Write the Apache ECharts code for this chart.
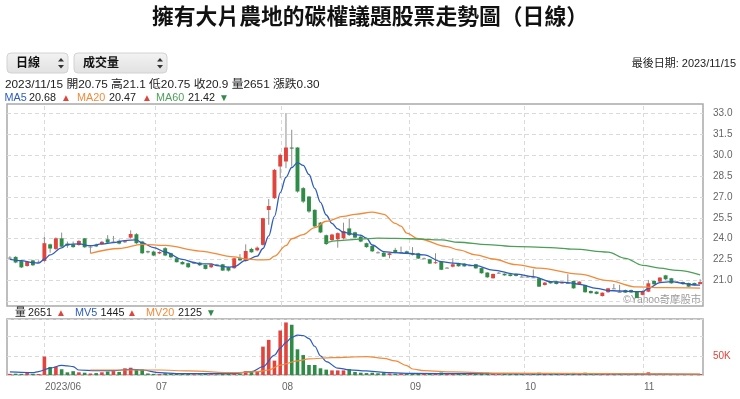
<!DOCTYPE html>
<html><head><meta charset="utf-8">
<script src="https://cdn.jsdelivr.net/npm/echarts@6/dist/echarts.min.js"></script>
<style>html,body{margin:0;padding:0;background:#fff;}#c{width:740px;height:399px;}</style>
</head><body><div id="c"></div>
<script>
// ---------- data ----------
const dates = [
'2023/05/24','2023/05/25','2023/05/26','2023/05/29','2023/05/30','2023/05/31',
'2023/06/01','2023/06/02','2023/06/05','2023/06/06','2023/06/07','2023/06/08','2023/06/09','2023/06/12','2023/06/13','2023/06/14','2023/06/15','2023/06/16','2023/06/19','2023/06/20','2023/06/21','2023/06/26','2023/06/27','2023/06/28','2023/06/29','2023/06/30',
'2023/07/03','2023/07/04','2023/07/05','2023/07/06','2023/07/07','2023/07/10','2023/07/11','2023/07/12','2023/07/13','2023/07/14','2023/07/17','2023/07/18','2023/07/19','2023/07/20','2023/07/21','2023/07/24','2023/07/25','2023/07/26','2023/07/27','2023/07/28','2023/07/31',
'2023/08/01','2023/08/02','2023/08/03','2023/08/04','2023/08/07','2023/08/08','2023/08/09','2023/08/10','2023/08/11','2023/08/14','2023/08/15','2023/08/16','2023/08/17','2023/08/18','2023/08/21','2023/08/22','2023/08/23','2023/08/24','2023/08/25','2023/08/28','2023/08/29','2023/08/30','2023/08/31',
'2023/09/01','2023/09/04','2023/09/05','2023/09/06','2023/09/07','2023/09/08','2023/09/11','2023/09/12','2023/09/13','2023/09/14','2023/09/15','2023/09/18','2023/09/19','2023/09/20','2023/09/21','2023/09/22','2023/09/25','2023/09/26','2023/09/27','2023/09/28',
'2023/10/02','2023/10/03','2023/10/04','2023/10/05','2023/10/06','2023/10/11','2023/10/12','2023/10/13','2023/10/16','2023/10/17','2023/10/18','2023/10/19','2023/10/20','2023/10/23','2023/10/24','2023/10/25','2023/10/26','2023/10/27','2023/10/30','2023/10/31',
'2023/11/01','2023/11/02','2023/11/03','2023/11/06','2023/11/07','2023/11/08','2023/11/09','2023/11/10','2023/11/13','2023/11/14','2023/11/15'];

// [open, close, low, high]
const ohlc = [
[22.65,22.65,22.55,22.75],[22.7,22.3,22.25,22.75],[22.4,21.95,21.9,22.45],[22.05,22.35,22.0,22.4],[22.45,22.1,22.05,22.5],[22.35,22.35,22.3,22.45],
[22.41,23.68,22.35,24.15],[23.6,23.3,23.0,23.65],[23.27,24.03,23.2,24.1],[24.03,23.43,23.4,24.44],[23.65,23.5,23.35,23.8],[23.6,23.4,23.35,23.8],
[23.55,23.84,23.5,23.9],[24.03,23.39,23.35,24.05],[23.44,23.44,22.96,23.5],[23.55,23.45,23.4,23.65],[23.6,23.78,23.55,23.85],[23.96,23.72,23.7,24.26],
[23.8,23.8,23.7,24.2],[23.85,23.65,23.6,23.95],[23.76,23.82,23.7,23.9],[24.08,24.34,24.0,24.6],[24.32,23.68,23.6,24.4],[23.8,22.96,22.9,23.85],
[23.1,23.05,22.95,23.15],[23.08,22.8,22.75,23.15],[22.95,23.05,22.9,23.1],[23.32,22.8,22.75,23.4],[22.96,22.67,22.6,23.0],[22.6,22.32,22.3,22.65],
[22.34,22.17,22.15,22.4],[22.25,21.96,21.9,22.3],[22.29,22.29,22.2,22.35],[22.29,22.1,22.05,22.35],[22.12,21.84,21.8,22.15],[21.96,22.17,21.9,22.2],
[22.15,22.12,22.05,22.2],[22.17,21.72,21.7,22.2],[21.96,21.72,21.65,22.0],[21.89,22.6,21.85,22.65],[22.6,22.45,22.4,22.9],[22.41,23.12,22.35,23.6],
[23.27,23.03,23.0,23.35],[23.17,23.36,23.1,23.45],[23.56,25.47,23.5,25.5],[26.06,26.34,25.0,26.84],[26.9,28.93,26.85,29.0],[29.17,30.0,28.33,30.1],
[29.53,30.53,29.05,33.0],[30.53,30.45,29.17,31.8],[30.53,27.38,27.3,30.55],[27.62,26.66,26.55,27.7],[27.02,25.95,25.85,27.05],[26.07,24.88,24.85,26.1],
[25.15,24.45,24.4,25.2],[24.25,23.62,23.55,24.3],[23.9,24.3,23.85,24.35],[23.96,24.4,23.36,24.45],[24.03,24.55,23.95,25.15],[24.74,24.26,24.2,25.45],
[24.46,24.08,24.0,24.5],[24.15,23.8,23.75,24.2],[23.68,23.4,23.35,23.72],[23.48,23.1,23.05,23.5],[23.03,23.03,22.95,23.1],[23.0,22.72,22.7,23.05],
[22.84,22.96,22.6,23.0],[23.2,22.98,22.95,23.35],[23.05,23.05,22.95,23.44],[23.1,22.92,22.9,23.15],[22.98,22.85,22.8,23.4],[22.96,22.58,22.55,23.0],
[22.6,22.6,22.55,22.65],[22.53,22.22,22.2,22.56],[22.25,22.32,22.2,22.96],[22.36,21.78,21.75,22.4],[21.93,21.93,21.88,21.98],[22.0,22.17,21.95,22.6],
[22.25,22.03,22.0,22.28],[22.22,22.02,22.0,22.25],[22.1,22.1,22.05,22.15],[22.18,21.88,21.85,22.2],[21.9,21.53,21.5,21.93],[21.58,21.24,21.2,21.6],
[21.17,21.48,21.15,21.5],[21.57,21.57,21.5,21.62],[21.5,21.38,21.35,21.52],[21.45,21.33,21.3,21.5],[21.48,21.34,21.3,21.5],[21.29,21.29,21.25,21.45],
[21.29,21.29,21.25,21.35],[21.24,21.24,21.2,21.8],[21.17,20.57,20.55,21.2],[20.69,20.86,20.65,20.9],[20.95,20.81,20.78,20.98],[20.95,20.76,20.72,20.98],
[20.8,20.9,20.78,20.93],[20.83,20.83,20.78,21.46],[20.98,20.45,20.42,21.0],[20.76,20.93,20.72,20.96],[20.69,20.17,20.14,20.72],[20.26,20.1,20.08,20.3],
[20.21,20.05,20.02,20.24],[19.9,20.14,19.86,20.16],[20.17,20.45,20.14,20.48],[20.45,20.45,20.4,20.76],[20.2,20.2,20.15,20.7],[20.33,20.14,20.12,20.36],
[20.33,20.16,20.12,20.36],[20.2,19.76,19.74,20.22],[19.98,20.26,19.95,20.3],[20.21,20.81,20.18,21.05],[20.98,20.74,20.7,21.0],[20.93,21.22,20.9,21.25],
[21.38,21.1,21.05,21.41],[21.17,20.81,20.78,21.2],[20.93,20.93,20.88,20.98],[20.9,20.75,20.7,20.93],[20.83,20.57,20.55,20.86],[20.83,20.68,20.65,20.86],
[20.75,20.9,20.75,21.1]];

const volumes = [
3000,3500,3000,8000,3000,2500,
48000,21000,21500,15000,7000,10000,7000,6000,4000,5000,7000,9000,10000,8000,17500,19000,14500,14500,
4000,3000,2500,4500,3500,3000,2500,3000,2000,2000,2500,2000,1500,3500,3000,5000,3000,
10000,8000,8000,74000,91600,37500,116000,137000,131000,67000,52000,26000,26000,17500,14000,12000,12000,12000,15000,8000,6000,
5000,6000,4500,5000,4000,3500,4000,3000,3500,4500,
3000,5000,4000,6500,3000,4000,3000,2500,2500,3500,
5000,6000,4000,2500,3000,2500,3000,2500,2000,3500,
6000,3000,2500,3000,2500,4000,5500,3000,6000,3000,
2500,3500,4000,2500,3000,2000,2000,4500,3500,7000,
3000,3500,3000,2000,1000,1200,1300,1000,2651];

// moving averages: [index, value]
const ma5 = [[0,22.53],[2,22.43],[4,22.29],[5,22.25],[6,22.53],[7,22.84],[9,23.35],[10,23.6],[12,23.63],[14,23.5],[16,23.63],[18,23.72],[20,23.87],[22,23.92],[23,23.7],[25,23.37],[27,23.05],[30,22.52],[32,22.3],[33,22.2],[35,22.2],[36,22.08],[38,21.97],[39,22.0],[41,22.45],[43,22.75],[44,23.3],[45,24.2],[46,25.6],[47,27.3],[48,28.4],[49,29.1],[50,29.45],[51,29.25],[52,28.6],[53,27.6],[54,26.6],[55,25.7],[56,25.1],[57,24.7],[58,24.45],[60,24.3],[61,24.25],[62,24.04],[63,23.55],[65,23.08],[67,23.0],[69,22.96],[72,22.84],[75,22.36],[77,22.25],[81,22.07],[84,21.75],[88,21.46],[91,21.29],[94,20.93],[97,20.86],[99,20.74],[102,20.45],[104,20.29],[106,20.26],[109,20.21],[110,20.21],[111,20.45],[113,20.86],[115,20.93],[117,20.81],[119,20.69],[120,20.68]];
const ma20 = [[14,22.96],[19,23.3],[23,23.6],[27,23.52],[33,23.12],[39,22.7],[41,22.55],[43,22.48],[45,22.5],[46,22.75],[48,23.5],[49,24.0],[51,24.3],[53,24.8],[55,25.25],[58,25.6],[60,25.75],[63,25.9],[65,25.75],[67,25.1],[68,24.9],[69,24.4],[71,24.0],[76,23.44],[78,23.2],[81,22.85],[84,22.55],[88,22.15],[92,21.89],[99,21.47],[104,21.0],[109,20.55],[114,20.5],[120,20.47]];
const ma60 = [[55,23.72],[57,23.87],[61,23.97],[64,24.04],[70,24.0],[75,23.92],[78,23.75],[83,23.58],[87,23.46],[94,23.37],[98,23.25],[104,23.04],[107,22.6],[110,22.1],[113,21.89],[116,21.73],[120,21.42]];
const mv5 = [[0,8000],[2,7000],[4,6000],[5,9000],[7,18000],[9,25000],[10,24000],[11,21800],[12,13000],[15,11300],[18,11300],[21,14800],[23,13000],[26,6000],[29,3500],[33,3500],[39,3500],[42,8700],[44,21800],[46,52000],[47,70000],[48,85000],[49,98000],[50,104000],[51,103000],[52,95000],[53,75000],[54,50000],[55,35000],[57,18000],[59,13500],[62,10500],[64,8000],[66,6000],[70,4000],[80,3500],[90,3000],[100,3000],[110,2500],[120,1445]];
const mv20 = [[14,13000],[26,13000],[31,10500],[39,6000],[43,8700],[45,13000],[47,26000],[50,36600],[52,42000],[56,45400],[62,48000],[65,43600],[67,36600],[69,24400],[70,15700],[72,11300],[77,7900],[86,5000],[103,3500],[120,2125]];

const priceTicks = {min: 19.5, max: 33, step: 1.5};
const volTicks = {min: 0, max: 146000, step: 50000};
// month boundaries, in trading-day index units, and their labels
const monthPos = [5.93, 25.23, 47.13, 69.47, 89.38, 110.02];
const monthLabels = ['2023/06', '07', '08', '09', '10', '11'];

// ---------- style ----------
const UP = '#e0443c', DOWN = '#2f8c47', DOJI = '#8c8c8c', WICK = '#8e8e8e';
const C_MA5 = '#2d5cc0', C_MA20 = '#f28a3a', C_MA60 = '#4c9f58';
const FF = '"Liberation Sans","Noto Sans CJK TC",sans-serif';
const GRIDC = '#dadada';

const chart = echarts.init(document.getElementById('c'), null, {renderer: 'canvas'});

const candleData = ohlc.map((r, i) => [i, r[0], r[1], r[2], r[3]]);
const volData = volumes.map((v, i) => {
  const [o, c] = ohlc[i];
  let col;
  if (c > o) col = UP; else if (c < o) col = DOWN;
  else col = (i > 0 && c < ohlc[i - 1][1]) ? DOWN : UP;
  return {value: v, itemStyle: {color: col}};
});

function renderCandle(params, api) {
  const x = api.value(0), o = api.value(1), c = api.value(2), l = api.value(3), h = api.value(4);
  const pO = api.coord([x, o]), pC = api.coord([x, c]), pL = api.coord([x, l]), pH = api.coord([x, h]);
  const bw = api.size([1, 0])[0] * 0.68;
  const col = c > o ? UP : (c < o ? DOWN : DOJI);
  const top = Math.min(pO[1], pC[1]);
  const ht = Math.max(Math.abs(pO[1] - pC[1]), 1);
  const cx = pO[0];
  return {type: 'group', children: [
    {type: 'line', shape: {x1: cx, y1: pH[1], x2: cx, y2: pL[1]}, style: {stroke: WICK, lineWidth: 1}},
    {type: 'rect', shape: {x: cx - bw / 2, y: top, width: bw, height: ht}, style: {fill: col}}
  ]};
}
function makeMonthRenderer(withLabel) {
  return function (params, api) {
    const x = api.value(0);
    const p1 = api.coord([x, 0]), p2 = api.coord([x, 1]);
    const px = Math.round(p1[0]) + 0.5;
    const children = [{type: 'line', silent: true, shape: {x1: px, y1: p1[1], x2: px, y2: p2[1]},
      style: {stroke: GRIDC, lineWidth: 1, lineDash: [4, 3]}}];
    if (withLabel) {
      children.push({type: 'text', silent: true, x: px + 0.5, y: p1[1] + 12,
        style: {text: monthLabels[params.dataIndex], fill: '#666', font: 'normal 10px ' + FF,
          textAlign: 'left', align: 'left', textVerticalAlign: 'middle', verticalAlign: 'middle'}});
    }
    return {type: 'group', children: children};
  };
}

function txt(text, x, y, size, color, opt) {
  opt = opt || {};
  return {type: 'text', x: x, y: y, silent: true, style: {
    text: text, fill: color, font: (opt.weight || 'normal') + ' ' + size + 'px ' + FF,
    textAlign: opt.align || 'left', align: opt.align || 'left',
    textVerticalAlign: 'middle', verticalAlign: 'middle'}};
}
function dropdown(x, w, label) {
  return [
    {type: 'rect', shape: {x: x, y: 53, width: w, height: 20, r: 4}, silent: true,
      style: {fill: new echarts.graphic.LinearGradient(0, 0, 0, 1, [{offset: 0, color: '#f3f3f3'}, {offset: 1, color: '#e1e1e1'}]), stroke: '#d2d2d2', lineWidth: 1}},
    txt(label, x + 9, 63.5, 12, '#111', {weight: 'bold'}),
    {type: 'polygon', silent: true, shape: {points: [[x + w - 10, 61.5], [x + w - 7, 58], [x + w - 4, 61.5]]}, style: {fill: '#333'}},
    {type: 'polygon', silent: true, shape: {points: [[x + w - 10, 65], [x + w - 7, 68.5], [x + w - 4, 65]]}, style: {fill: '#333'}}
  ];
}

const LF = 10.8;
const graphics = [].concat(
  [txt('擁有大片農地的碳權議題股票走勢圖（日線）', 370, 18, 21.8, '#111', {align: 'center', weight: 'bold'})],
  dropdown(7, 61, '日線'),
  dropdown(74, 93, '成交量'),
  [
    txt('最後日期: 2023/11/15', 736, 64, 11, '#222', {align: 'right'}),
    txt('2023/11/15 開20.75 高21.1 低20.75 收20.9 量2651 漲跌0.30', 5, 84.5, 11.8, '#222'),
    txt('MA5', 4.5, 98, LF, C_MA5), txt('20.68', 29, 98, LF, '#222'), txt('▲', 61, 98, 10, UP),
    txt('MA20', 77, 98, LF, C_MA20), txt('20.47', 109, 98, LF, '#222'), txt('▲', 142, 98, 10, UP),
    txt('MA60', 156, 98, LF, C_MA60), txt('21.42', 188, 98, LF, '#222'), txt('▼', 219, 98, 10, DOWN),
    txt('量', 15, 313, LF, '#222'), txt('2651', 28, 313, LF, '#222'), txt('▲', 56, 313, 10, UP),
    txt('MV5', 75, 313, LF, C_MA5), txt('1445', 100.5, 313, LF, '#222'), txt('▲', 127, 313, 10, UP),
    txt('MV20', 146, 313, LF, C_MA20), txt('2125', 178, 313, LF, '#222'), txt('▼', 206, 313, 10, DOWN),
    txt('©Yahoo奇摩股市', 701, 300, 10.3, '#9a9a9a', {align: 'right'})
  ]
);

const hidden = {show: false};
const option = {
  animation: false,
  backgroundColor: '#fff',
  textStyle: {fontFamily: FF},
  grid: [
    {left: 7, right: 37, top: 104, height: 202, show: true, borderColor: '#a9a9a9', borderWidth: 1.5, backgroundColor: 'transparent'},
    {left: 7, right: 37, top: 113, height: 188.6},
    {left: 7, right: 37, top: 319, height: 56, show: true, borderColor: '#a9a9a9', borderWidth: 1.5, backgroundColor: 'transparent'}
  ],
  xAxis: [
    {type: 'value', gridIndex: 0, min: -0.5, max: 120.5, show: false, splitLine: hidden},
    {type: 'category', gridIndex: 1, data: dates, boundaryGap: true, show: false},
    {type: 'category', gridIndex: 2, data: dates, boundaryGap: true, show: false},
    {type: 'value', gridIndex: 2, min: -0.5, max: 120.5, show: false, splitLine: hidden}
  ],
  yAxis: [
    {type: 'value', gridIndex: 0, min: 0, max: 1, show: false, splitLine: hidden},
    {type: 'value', gridIndex: 1, position: 'right', min: priceTicks.min, max: priceTicks.max, interval: priceTicks.step,
      axisLine: hidden, axisTick: hidden,
      axisLabel: {margin: 10, color: '#666', fontSize: 10, fontFamily: FF,
        formatter: (v) => v <= priceTicks.min ? '' : v.toFixed(1)},
      splitLine: {show: true, lineStyle: {color: GRIDC, type: [4, 3], width: 1}}},
    {type: 'value', gridIndex: 2, position: 'right', min: volTicks.min, max: volTicks.max, interval: volTicks.step,
      axisLine: hidden, axisTick: hidden,
      axisLabel: {margin: 10, color: '#e0443c', fontSize: 10, fontFamily: FF,
        formatter: (v) => v === 50000 ? '50K' : ''},
      splitLine: {show: true, lineStyle: {color: GRIDC, type: [4, 3], width: 1}}},
    {type: 'value', gridIndex: 2, min: 0, max: 1, show: false, splitLine: hidden}
  ],
  series: [
    {type: 'custom', xAxisIndex: 0, yAxisIndex: 0, data: monthPos.map(p => [p, 0.5]), renderItem: makeMonthRenderer(false), silent: true, clip: false, z: 1},
    {type: 'custom', xAxisIndex: 3, yAxisIndex: 3, data: monthPos.map(p => [p, 0.5]), renderItem: makeMonthRenderer(true), silent: true, clip: false, z: 1},
    {type: 'custom', name: 'K', xAxisIndex: 1, yAxisIndex: 1, data: candleData, renderItem: renderCandle,
      encode: {x: 0, y: [1, 2, 3, 4]}, z: 3},
    {type: 'line', name: 'MA5', xAxisIndex: 1, yAxisIndex: 1, data: ma5, smooth: 0.35, smoothMonotone: 'x', showSymbol: false, symbol: 'none',
      lineStyle: {color: C_MA5, width: 1.3}, z: 4},
    {type: 'line', name: 'MA20', xAxisIndex: 1, yAxisIndex: 1, data: ma20, smooth: 0.35, smoothMonotone: 'x', showSymbol: false, symbol: 'none',
      lineStyle: {color: C_MA20, width: 1.3}, z: 4},
    {type: 'line', name: 'MA60', xAxisIndex: 1, yAxisIndex: 1, data: ma60, smooth: 0.35, smoothMonotone: 'x', showSymbol: false, symbol: 'none',
      lineStyle: {color: C_MA60, width: 1.3}, z: 4},
    {type: 'bar', name: 'VOL', xAxisIndex: 2, yAxisIndex: 2, data: volData, barWidth: 3.6, z: 3},
    {type: 'line', name: 'MV5', xAxisIndex: 2, yAxisIndex: 2, data: mv5, smooth: 0.35, smoothMonotone: 'x', showSymbol: false, symbol: 'none',
      lineStyle: {color: C_MA5, width: 1.2}, z: 4},
    {type: 'line', name: 'MV20', xAxisIndex: 2, yAxisIndex: 2, data: mv20, smooth: 0.35, smoothMonotone: 'x', showSymbol: false, symbol: 'none',
      lineStyle: {color: C_MA20, width: 1.2}, z: 4}
  ],
  graphic: graphics
};
chart.setOption(option);
</script>
</body></html>
